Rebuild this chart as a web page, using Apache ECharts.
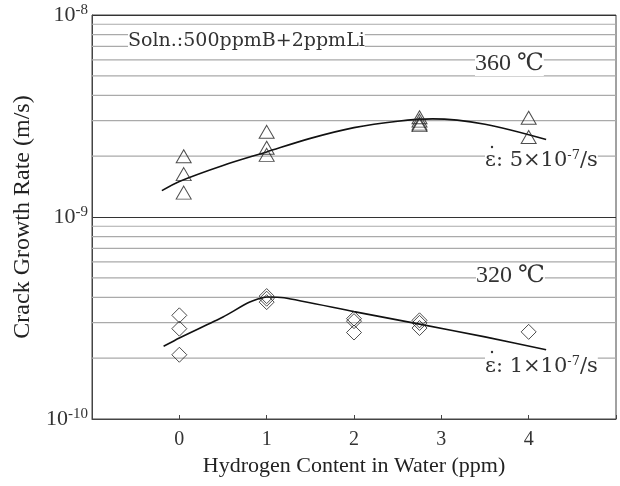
<!DOCTYPE html>
<html>
<head>
<meta charset="utf-8">
<title>Crack Growth Rate vs Hydrogen</title>
<script src="https://cdn.jsdelivr.net/npm/echarts@6/dist/echarts.min.js"></script>
<style>
  body { margin: 0; background: #fff; }
  #main { width: 620px; height: 486px; }
</style>
</head>
<body>
<div id="main"></div>
<script>
// 360 ℃ data (triangles)
const hot_points = [
  [0.05, 2.0e-9], [0.05, 1.63e-9], [0.05, 1.32e-9],
  [1.0, 2.64e-9], [1.0, 2.2e-9], [1.0, 2.03e-9],
  [2.75, 3.12e-9], [2.75, 3.0e-9], [2.75, 2.9e-9], [2.75, 2.85e-9],
  [4.0, 3.1e-9], [4.0, 2.49e-9]
];
// fitted curve 360 ℃
const hot_curve = [
  [-0.2, 1.35e-9], [0, 1.5e-9], [0.5, 1.8e-9], [1, 2.1e-9], [1.5, 2.45e-9],
  [2, 2.77e-9], [2.5, 2.98e-9], [2.9, 3.06e-9], [3.5, 2.88e-9], [4.2, 2.42e-9]
];
// 320 ℃ data (diamonds)
const cold_points = [
  [0, 3.26e-10], [0, 2.8e-10], [0, 2.08e-10],
  [1, 4.06e-10], [1, 3.94e-10], [1, 3.79e-10],
  [2, 3.14e-10], [2, 3.05e-10], [2, 2.68e-10],
  [2.75, 3.08e-10], [2.75, 2.99e-10], [2.75, 2.82e-10],
  [4, 2.7e-10]
];
// fitted curve 320 ℃
const cold_curve = [
  [-0.18, 2.29e-10], [0, 2.52e-10], [0.5, 3.2e-10], [0.8, 3.78e-10], [1.0, 4.02e-10],
  [1.2, 3.98e-10], [2, 3.4e-10], [2.75, 2.95e-10], [3.5, 2.55e-10], [4.2, 2.2e-10]
];
// minor grid lines on the log axis
const minor_lines = [
  2e-10, 3e-10, 4e-10, 5e-10, 6e-10, 7e-10, 8e-10, 9e-10,
  2e-9, 3e-9, 4e-9, 5e-9, 6e-9, 7e-9, 8e-9, 9e-9
];
const x_ticks = [0, 1, 2, 3, 4];
const x_min = -1, x_max = 5;

const serif = '"Liberation Serif", "DejaVu Serif", serif';
const chart = echarts.init(document.getElementById('main'));

// rich text for the strain-rate notes
function rateRich() {
  return {
    t: { fontFamily: '"DejaVu Serif", serif', fontSize: 21, fill: '#333' },
    s: { fontFamily: '"DejaVu Serif", serif', fontSize: 13, fill: '#333', padding: [0, 0, 11, 0] }
  };
}

// one thin gray line series per minor grid value
const minorSeries = minor_lines.map(v => ({
  type: 'line', data: [[x_min, v], [x_max, v]], showSymbol: false, silent: true,
  lineStyle: { color: '#aaa', width: 1.2 }, z: 1
}));

const option = {
  animation: false,
  grid: { left: 92, right: 4, top: 15, bottom: 67, show: true, borderColor: '#444', borderWidth: 1 },
  xAxis: {
    type: 'value', min: x_min, max: x_max, interval: 1,
    name: 'Hydrogen Content in Water (ppm)', nameLocation: 'middle', nameGap: 35,
    nameTextStyle: { fontFamily: serif, fontSize: 22, color: '#222' },
    axisLine: { onZero: false, lineStyle: { color: '#444' } },
    axisTick: { inside: true, length: 4, lineStyle: { color: '#444' } },
    axisLabel: {
      margin: 11, fontFamily: serif, fontSize: 20, color: '#333',
      formatter: v => x_ticks.indexOf(v) >= 0 ? String(v) : ''
    },
    splitLine: { show: false }
  },
  yAxis: {
    type: 'log', logBase: 10, min: 1e-10, max: 1e-8,
    name: 'Crack Growth Rate (m/s)', nameLocation: 'middle', nameGap: 51,
    nameTextStyle: { fontFamily: serif, fontSize: 24, color: '#222' },
    axisLine: { onZero: false, lineStyle: { color: '#444' } },
    axisTick: { show: false },
    axisLabel: {
      margin: 4,
      formatter: v => '{b|10}{s|' + Math.round(Math.log10(v)) + '}',
      rich: {
        b: { fontFamily: serif, fontSize: 22, color: '#333' },
        s: { fontFamily: serif, fontSize: 15, color: '#333', padding: [0, 0, 10, 0] }
      }
    },
    splitLine: { show: true, lineStyle: { color: '#333', width: 1 } }
  },
  series: minorSeries.concat([
    {
      name: '360 curve', type: 'line', data: hot_curve, showSymbol: false, smooth: 0.3,
      lineStyle: { color: '#111', width: 1.6 }, silent: true, z: 3
    },
    {
      name: '320 curve', type: 'line', data: cold_curve, showSymbol: false, smooth: 0.2,
      lineStyle: { color: '#111', width: 1.6 }, silent: true, z: 3
    },
    {
      name: '360', type: 'scatter', data: hot_points, symbol: 'triangle', symbolSize: [15, 13],
      itemStyle: { color: 'rgba(255,255,255,0)', borderColor: '#222', borderWidth: 1 }, z: 4
    },
    {
      name: '320', type: 'scatter', data: cold_points, symbol: 'diamond', symbolSize: [15, 15],
      itemStyle: { color: 'rgba(255,255,255,0)', borderColor: '#222', borderWidth: 1 }, z: 4
    }
  ]),
  graphic: [
    { type: 'text', left: 128, top: 32, z: 10,
      style: { text: 'Soln.:500ppmB+2ppmLi', fontFamily: '"DejaVu Serif", serif', fontSize: 19, fill: '#333', backgroundColor: '#fff' } },
    { type: 'text', left: 475, top: 52, z: 10,
      style: { text: '360 ℃', fontFamily: serif, fontSize: 24, fill: '#333', backgroundColor: '#fff' } },
    { type: 'text', left: 476, top: 264, z: 10,
      style: { text: '320 ℃', fontFamily: serif, fontSize: 24, fill: '#333', backgroundColor: '#fff' } },
    { type: 'text', left: 485, top: 149, z: 10,
      style: { text: '{t|ε: 5×10}{s|-7}{t|/s}', rich: rateRich(), backgroundColor: '#fff' } },
    { type: 'circle', shape: { cx: 492, cy: 147, r: 1.2 }, style: { fill: '#333' }, z: 11 },
    { type: 'text', left: 485, top: 355, z: 10,
      style: { text: '{t|ε: 1×10}{s|-7}{t|/s}', rich: rateRich(), backgroundColor: '#fff' } },
    { type: 'circle', shape: { cx: 492, cy: 352, r: 1.2 }, style: { fill: '#333' }, z: 11 }
  ]
};
chart.setOption(option);
</script>
</body>
</html>
